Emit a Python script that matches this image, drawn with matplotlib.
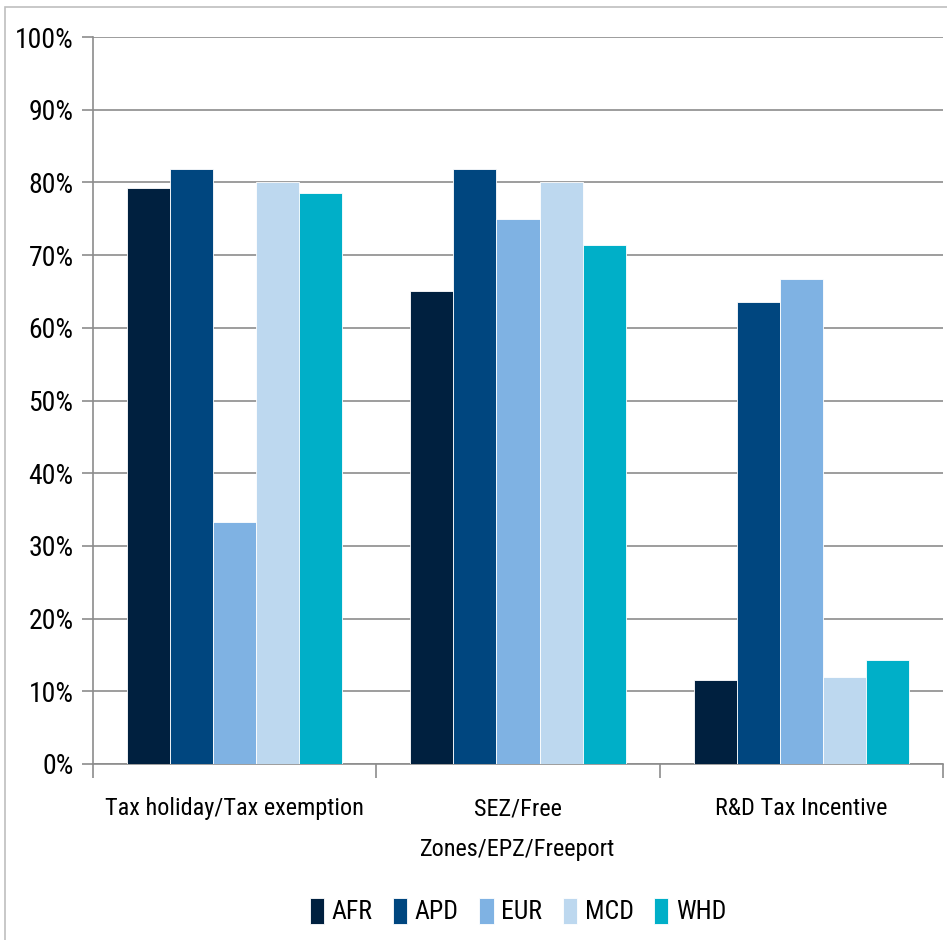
import numpy as np
import matplotlib.pyplot as plt
from matplotlib.patches import Rectangle
from matplotlib.ticker import PercentFormatter

# Data
categories = ['Tax holiday/Tax exemption', 'SEZ/Free\nZones/EPZ/Freeport', 'R&D Tax Incentive']
regions = ['AFR', 'APD', 'EUR', 'MCD', 'WHD']
afr = [79.2, 65.1, 11.5]
apd = [81.8, 81.8, 63.6]
eur = [33.3, 75.0, 66.7]
mcd = [80.0, 80.0, 11.9]
whd = [78.6, 71.4, 14.3]
colors = ['#00203F', '#00467F', '#7FB2E3', '#BDD8EF', '#00AFC8']

plt.rcParams['font.family'] = ['Liberation Sans Narrow', 'Roboto Condensed', 'DejaVu Sans']

fig = plt.figure(figsize=(9.47, 9.40), dpi=100)
ax = fig.add_axes([93 / 947, 1 - 764 / 940, 850 / 947, 727 / 940])

# figure border
fig.patches.append(Rectangle((5 / 947, -0.01), 1.1, 1 - 7 / 940 + 0.01, transform=fig.transFigure,
                             fill=False, edgecolor='#BFBFBF', linewidth=1.2))

series = [afr, apd, eur, mcd, whd]
x = np.arange(len(categories))
width = 0.152
for i, (vals, name, col) in enumerate(zip(series, regions, colors)):
    ax.bar(x + (i - 2) * width, vals, width, color=col, label=name,
           edgecolor='white', linewidth=0.6, zorder=3)

ax.set_xlim(-0.5, 2.5)
ax.set_ylim(0, 100)
ax.set_yticks(np.arange(0, 101, 10))
ax.yaxis.set_major_formatter(PercentFormatter(decimals=0))
ax.grid(axis='y', color='#8C8C8C', linewidth=1.2, zorder=0)

for s in ['top', 'right']:
    ax.spines[s].set_visible(False)
ax.spines['left'].set_color('#8C8C8C')
ax.spines['bottom'].set_color('#8C8C8C')
ax.spines['left'].set_linewidth(1.2)
ax.spines['bottom'].set_linewidth(1.2)

ax.set_xticks(x)
ax.set_xticklabels(categories, fontsize=17.5, linespacing=2.0)
ax.tick_params(axis='x', length=0, pad=24)
ax.set_xticks([-0.5, 0.5, 1.5, 2.5], minor=True)
ax.tick_params(axis='x', which='minor', length=10, color='#8C8C8C', width=1.2)
ax.tick_params(axis='y', labelsize=20, length=8, color='#8C8C8C', width=1.2, pad=6)

ax.legend(loc='upper center', bbox_to_anchor=(0.5, -0.152), ncol=5, frameon=False,
          fontsize=18.5, handlelength=0.55, handleheight=1.2, handletextpad=0.3,
          columnspacing=0.8)

fig.savefig('out.png', dpi=100)
